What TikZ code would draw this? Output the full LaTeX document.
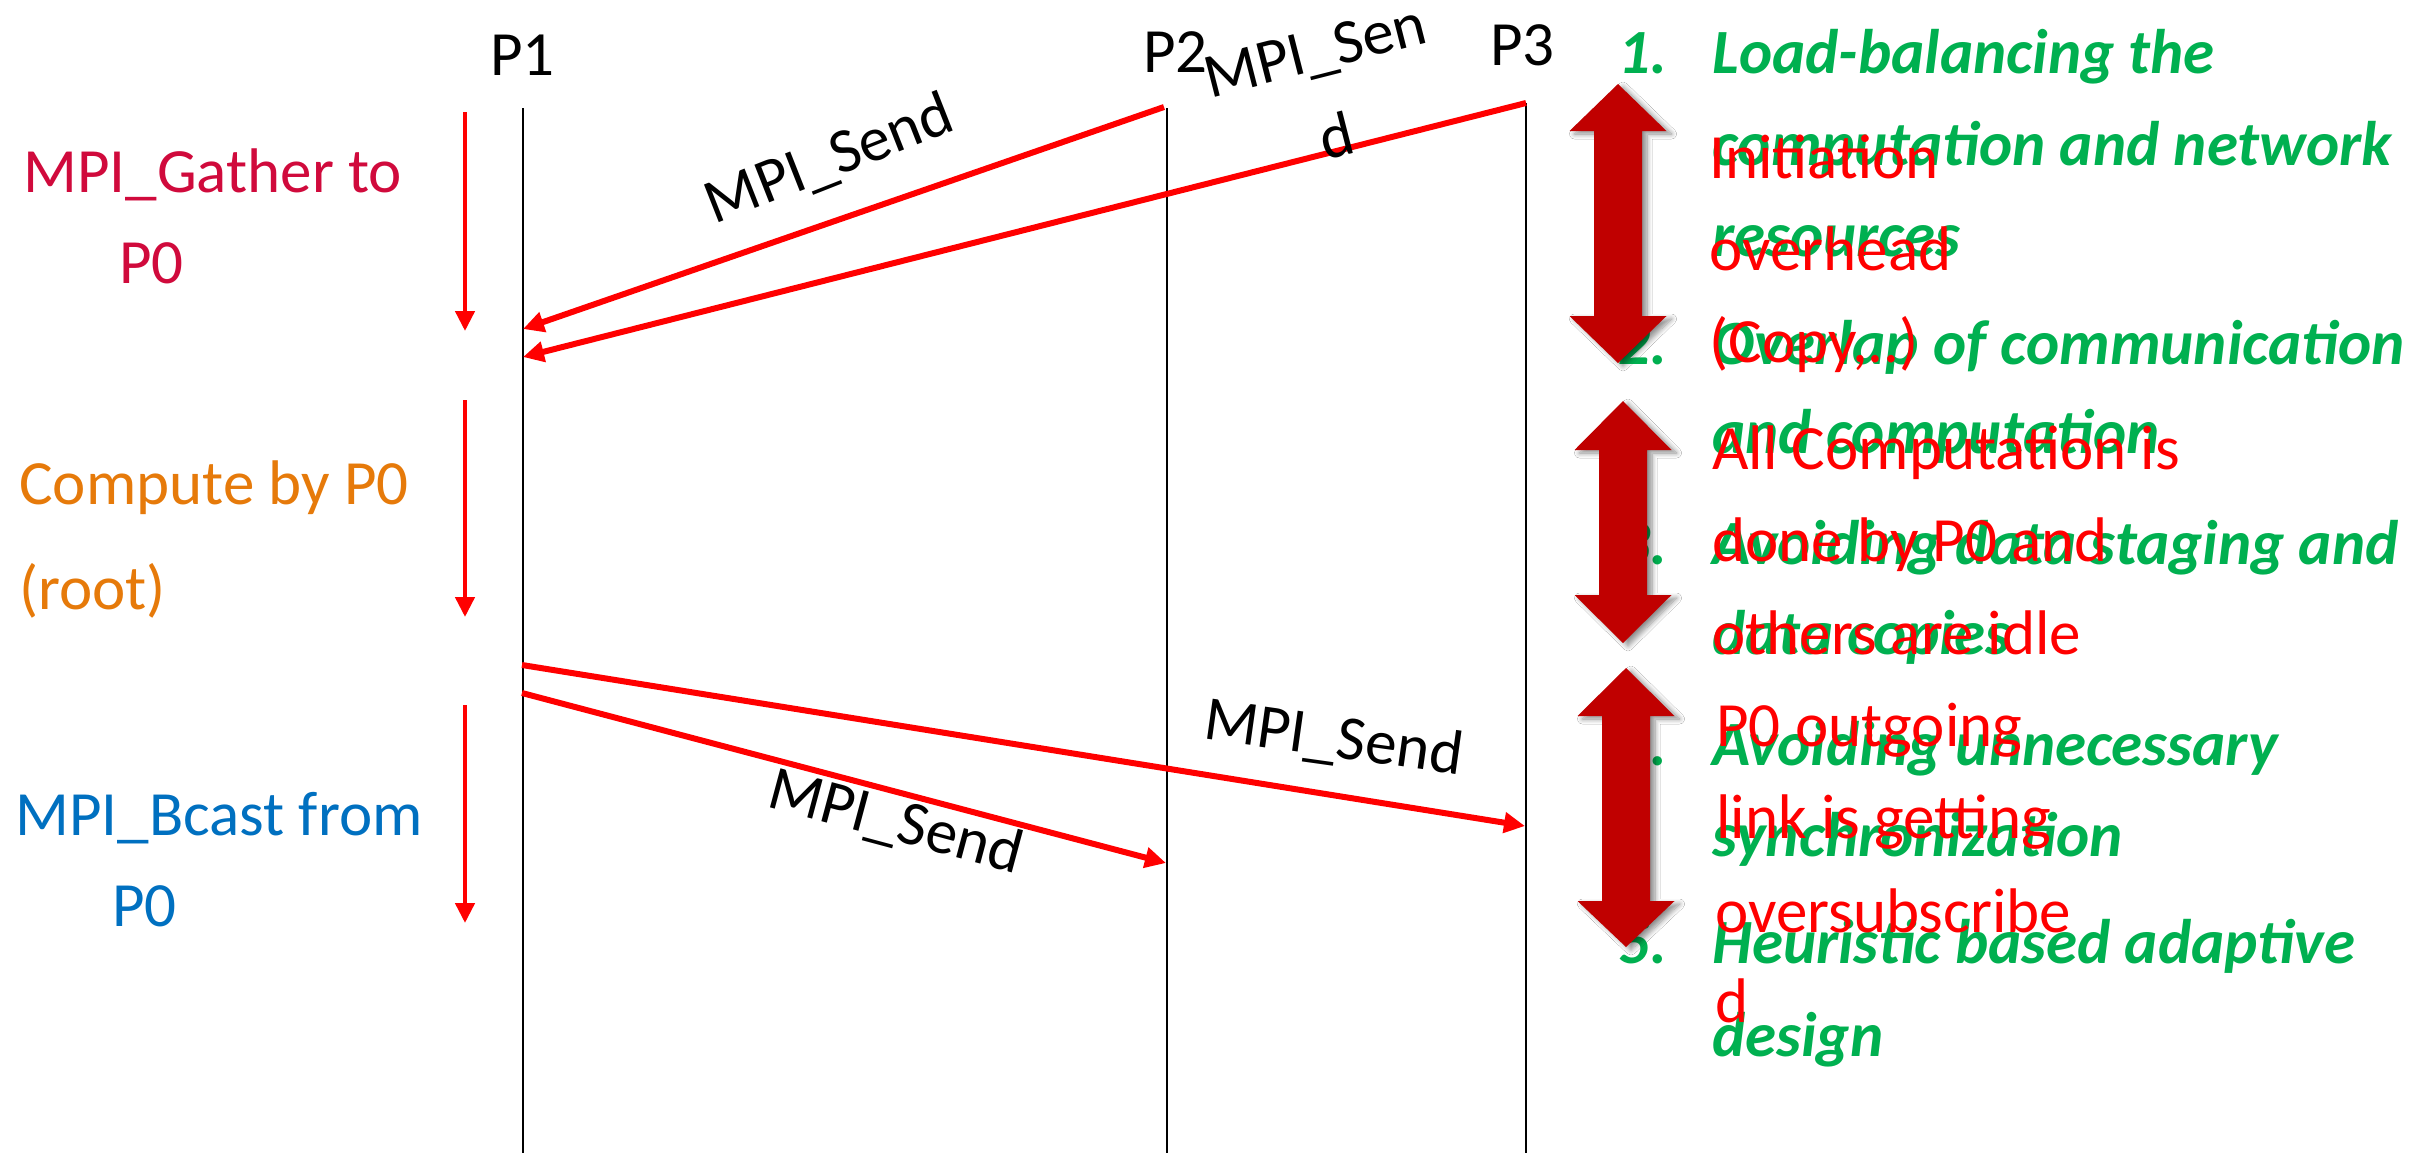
\documentclass[tikz,border=0pt]{standalone}
\usepackage{fontspec}
\setmainfont{Carlito}
\usetikzlibrary{arrows.meta,shadows.blur}

\definecolor{gathercol}{RGB}{208,10,60}
\definecolor{computecol}{RGB}{230,122,10}
\definecolor{bcastcol}{RGB}{0,112,192}
\definecolor{listgreen}{RGB}{0,176,80}
\definecolor{notered}{RGB}{255,0,0}
\definecolor{bigarrow}{RGB}{192,0,0}

\begin{document}
\begin{tikzpicture}[x=0.5pt,y=-0.5pt,
  txt/.style={font=\fontsize{31.5}{38}\selectfont, inner sep=0pt, anchor=base west},
  lifeline/.style={draw=black, line width=1pt},
  msg/.style={draw=notered, line width=3pt, -{Triangle[length=10.5pt,width=10pt]}},
  phase/.style={draw=notered, line width=2.25pt, -{Triangle[length=10pt,width=9.5pt]}},
  sendlbl/.style={font=\fontsize{31.5}{38}\selectfont, inner sep=0pt, anchor=base},
  item/.style={txt, text=listgreen, font=\fontsize{31.5}{38}\selectfont\bfseries\itshape},
  note/.style={txt, text=notered},
  bigarr/.style={fill=bigarrow, blur shadow={shadow xshift=2.5pt, shadow yshift=-1.5pt,
      shadow opacity=45, shadow blur radius=2.5pt, shadow blur steps=8}}]

\fill[white] (0,0) rectangle (2417,1153);
\useasboundingbox (0,0) rectangle (2417,1153);

% process labels and lifelines
\node[txt] (p1) at (490,75) {P1};
\node[txt] (p2) at (1143,72) {P2};
\node[txt] (p3) at (1490,65) {P3};

\coordinate (l1top) at (523,108);  \coordinate (l1bot) at (523,1153);
\coordinate (l2top) at (1167,108); \coordinate (l2bot) at (1167,1153);
\coordinate (l3top) at (1526,103); \coordinate (l3bot) at (1526,1153);
\draw[lifeline] (l1top) -- (l1bot);
\draw[lifeline] (l2top) -- (l2bot);
\draw[lifeline] (l3top) -- (l3bot);

% phase labels on the left
\node[txt, text=gathercol] (g1) at (23,192) {MPI\_Gather to};
\node[txt, text=gathercol] (g2) at (119,283) {P0};
\node[txt, text=computecol] (c1) at (19,504) {Compute by P0};
\node[txt, text=computecol] (c2) at (19,609) {(root)};
\node[txt, text=bcastcol] (b1) at (15,835) {MPI\_Bcast from};
\node[txt, text=bcastcol] (b2) at (112,926) {P0};

% phase arrows
\coordinate (ph1s) at (465,112); \coordinate (ph1e) at (465,331);
\coordinate (ph2s) at (465,400); \coordinate (ph2e) at (465,617);
\coordinate (ph3s) at (465,705); \coordinate (ph3e) at (465,923);
\draw[phase] (ph1s) -- (ph1e);
\draw[phase] (ph2s) -- (ph2e);
\draw[phase] (ph3s) -- (ph3e);

% messages
\coordinate (s2) at (1164,107);  \coordinate (r1a) at (523,329);
\coordinate (s3) at (1526,103);  \coordinate (r1b) at (523,357);
\coordinate (s1a) at (522,665);  \coordinate (r3) at (1525,826);
\coordinate (s1b) at (522,693);  \coordinate (r2) at (1166,863);
\draw[msg] (s2) -- (r1a);
\draw[msg] (s3) -- (r1b);
\draw[msg] (s1a) -- (r3);
\draw[msg] (s1b) -- (r2);

\node[sendlbl, rotate=21.5] (m1) at (836,177) {MPI\_Send};
\node[sendlbl, rotate=14.3] (m2a) at (1320,70) {MPI\_Sen};
\node[sendlbl, rotate=14.3] (m2b) at (1342,156) {d};
\node[sendlbl, rotate=-8] (m3) at (1331,757) {MPI\_Send};
\node[sendlbl, rotate=-15] (m4) at (891,840) {MPI\_Send};

% numbered list
\node[item] (n1) at (1618,73) {1.};
\node[item] (t1a) at (1712,73) {Load-balancing the};
\node[item] (t1b) at (1712,165) {computation and network};
\node[item] (t1c) at (1712,256) {resources};
\node[item] (n2) at (1618,364) {2.};
\node[item] (t2a) at (1712,364) {Overlap of communication};
\node[item] (t2b) at (1712,453) {and computation};
\node[item] (n3) at (1618,564) {3.};
\node[item] (t3a) at (1712,564) {Avoiding data staging and};
\node[item] (t3b) at (1712,654) {data copies};
\node[item] (n4) at (1618,765) {4.};
\node[item] (t4a) at (1712,765) {Avoiding unnecessary};
\node[item] (t4b) at (1712,856) {synchronization};
\node[item] (n5) at (1618,963) {5.};
\node[item] (t5a) at (1712,963) {Heuristic based adaptive};
\node[item] (t5b) at (1712,1056) {design};

% double-headed range arrows
\foreach \cx/\tt/\tb/\bb/\bt [count=\k] in
    {1618/84/131/316/363, 1623/401/450/595/643, 1626/668/716/901/947} {
  \path[bigarr] (\cx,\tt) -- (\cx+48.5,\tb) -- (\cx+24,\tb) -- (\cx+24,\bb)
     -- (\cx+48.5,\bb) -- (\cx,\bt) -- (\cx-48.5,\bb) -- (\cx-24,\bb)
     -- (\cx-24,\tb) -- (\cx-48.5,\tb) -- cycle;
}

% overhead notes
\node[note] (o1a) at (1709,178) {Initiation};
\node[note] (o1b) at (1709,270) {overhead};
\node[note] (o1c) at (1709,362) {(Copy,..)};
\node[note] (o2a) at (1712,469) {All Computation is};
\node[note] (o2b) at (1712,561) {done by P0 and};
\node[note] (o2c) at (1712,654) {others are idle};
\node[note] (o3a) at (1716,746) {P0 outgoing};
\node[note] (o3b) at (1716,838) {link is getting};
\node[note] (o3c) at (1715,932) {oversubscribe};
\node[note] (o3d) at (1715,1022) {d};
\end{tikzpicture}
\end{document}
